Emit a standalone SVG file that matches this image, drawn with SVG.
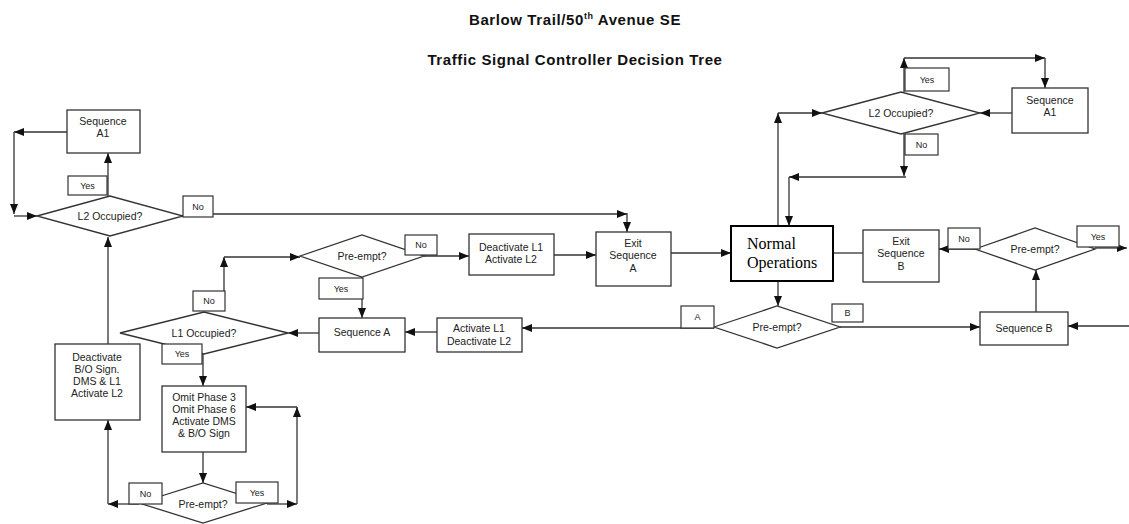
<svg xmlns="http://www.w3.org/2000/svg" width="1129" height="524" viewBox="0 0 1129 524">
<style>
.box{fill:#fff;stroke:#333;stroke-width:1.3}
.lbl{fill:#fff;stroke:#333;stroke-width:1.2}
.dia{fill:#fff;stroke:#333;stroke-width:1.3}
.t{font-family:"Liberation Sans",Arial,sans-serif;font-size:10.5px;fill:#222;text-anchor:middle}
.s{font-family:"Liberation Sans",Arial,sans-serif;font-size:9px;fill:#222;text-anchor:middle}
.title{font-family:"Liberation Sans",Arial,sans-serif;font-size:15px;font-weight:bold;fill:#111;text-anchor:middle;letter-spacing:0.6px}
.c{fill:none;stroke:#333;stroke-width:1.3}
.c.a{marker-end:url(#arr)}
</style>
<defs>
<marker id="arr" markerUnits="userSpaceOnUse" markerWidth="10" markerHeight="10" viewBox="0 0 10 10" refX="10" refY="5" orient="auto">
<path d="M0,1 L10,5 L0,9 Z" fill="#111"/>
</marker>
</defs>
<rect width="1129" height="524" fill="#fff"/>

<g id="title">
<text class="title" x="575" y="25">Barlow Trail/50<tspan font-size="9" dy="-6">th</tspan><tspan dy="6"> Avenue SE</tspan></text>
<text class="title" x="575" y="65">Traffic Signal Controller Decision Tree</text>
</g>

<g id="connectors">
<path class="c a" d="M67,132 H14"/>
<path class="c a" d="M14,132 V214"/>
<path class="c a" d="M14,216 H37"/>
<path class="c a" d="M108,196 V153"/>
<path class="c a" d="M183,214 H627"/>
<path class="c a" d="M627,213 V232"/>
<path class="c a" d="M108,344 V237"/>
<path class="c a" d="M139,504 H108"/>
<path class="c a" d="M108,504 V420"/>
<path class="c a" d="M267,504 H297"/>
<path class="c a" d="M297,504 V407"/>
<path class="c a" d="M297,407 H246"/>
<path class="c a" d="M203,452 V483"/>
<path class="c a" d="M203,354 V386"/>
<path class="c a" d="M224,311 V257"/>
<path class="c a" d="M224,257 H300"/>
<path class="c a" d="M319,333 H288"/>
<path class="c a" d="M362,277 V318"/>
<path class="c a" d="M424,256 H469"/>
<path class="c a" d="M554,255 H596"/>
<path class="c a" d="M671,253 H731"/>
<path class="c a" d="M778,281 V306"/>
<path class="c a" d="M714,328 H522"/>
<path class="c a" d="M437,332 H405"/>
<path class="c a" d="M840,327 H980"/>
<path class="c a" d="M1129,326 H1068"/>
<path class="c a" d="M1036,312 V270"/>
<path class="c a" d="M975,249 H939"/>
<path class="c a" d="M1095,248 H1127"/>
<path class="c" d="M833,253 H863"/>
<path class="c a" d="M778,226 V113"/>
<path class="c a" d="M778,113 H822"/>
<path class="c a" d="M904,92 V58"/>
<path class="c a" d="M904,58 H1045"/>
<path class="c a" d="M1045,58 V88"/>
<path class="c a" d="M904,134 V176"/>
<path class="c a" d="M906,177 H789"/>
<path class="c a" d="M789,177 V226"/>
<path class="c a" d="M1012,113 H980"/>
</g>

<g id="seqA1-left">
<rect class="box" x="67" y="110" width="73" height="43"/>
<text class="t" x="103" y="125">Sequence</text>
<text class="t" x="103" y="137">A1</text>
</g>
<g id="l2occ-left">
<polygon class="dia" points="37,216 110,196 183,216 110,236"/>
<text class="t" x="110" y="220">L2 Occupied?</text>
<rect class="lbl" x="68" y="176" width="39" height="19"/>
<text class="s" x="87.5" y="189">Yes</text>
<rect class="lbl" x="183" y="196" width="30" height="21"/>
<text class="s" x="198" y="210">No</text>
</g>
<g id="deact-bo">
<rect class="box" x="55" y="344" width="85" height="76"/>
<text class="t" x="97" y="361">Deactivate</text>
<text class="t" x="97" y="373">B/O Sign.</text>
<text class="t" x="97" y="385">DMS &amp; L1</text>
<text class="t" x="97" y="397">Activate L2</text>
</g>
<g id="l1occ">
<polygon class="dia" points="120,333 204,312 288,333 204,354"/>
<text class="t" x="204" y="337">L1 Occupied?</text>
<rect class="lbl" x="193" y="291" width="32" height="20"/>
<text class="s" x="209" y="304">No</text>
<rect class="lbl" x="162" y="344" width="40" height="20"/>
<text class="s" x="182" y="357">Yes</text>
</g>
<g id="omit">
<rect class="box" x="162" y="386" width="84" height="66"/>
<text class="t" x="204" y="401">Omit Phase 3</text>
<text class="t" x="204" y="413">Omit Phase 6</text>
<text class="t" x="204" y="425">Activate DMS</text>
<text class="t" x="204" y="437">&amp; B/O Sign</text>
</g>
<g id="preempt-bottom">
<polygon class="dia" points="139,503 203,483 267,503 203,523"/>
<text class="t" x="203" y="508">Pre-empt?</text>
<rect class="lbl" x="129" y="483" width="33" height="21"/>
<text class="s" x="145.5" y="497">No</text>
<rect class="lbl" x="236" y="482" width="42" height="21"/>
<text class="s" x="257" y="496">Yes</text>
</g>
<g id="preempt-mid">
<polygon class="dia" points="300,256 362,235 424,256 362,277"/>
<text class="t" x="362" y="260">Pre-empt?</text>
<rect class="lbl" x="405" y="235" width="32" height="20"/>
<text class="s" x="421" y="248">No</text>
<rect class="lbl" x="319" y="278" width="44" height="21"/>
<text class="s" x="341" y="292">Yes</text>
</g>
<g id="deact-l1">
<rect class="box" x="469" y="234" width="85" height="41"/>
<text class="t" x="511" y="251">Deactivate L1</text>
<text class="t" x="511" y="263">Activate L2</text>
</g>
<g id="seqA">
<rect class="box" x="319" y="318" width="86" height="34"/>
<text class="t" x="362" y="336">Sequence A</text>
</g>
<g id="act-l1">
<rect class="box" x="437" y="318" width="85" height="34"/>
<text class="t" x="479" y="332">Activate L1</text>
<text class="t" x="479" y="345">Deactivate L2</text>
</g>
<g id="exitA">
<rect class="box" x="596" y="232" width="75" height="54"/>
<text class="t" x="633" y="247">Exit</text>
<text class="t" x="633" y="259">Sequence</text>
<text class="t" x="633" y="272">A</text>
</g>
<g id="normal">
<rect x="731" y="226" width="102" height="55" fill="#fff" stroke="#000" stroke-width="2"/>
<text x="747" y="249" font-family="'Liberation Serif','Times New Roman',serif" font-size="16" fill="#000">Normal</text>
<text x="747" y="268" font-family="'Liberation Serif','Times New Roman',serif" font-size="16" fill="#000">Operations</text>
</g>
<g id="preempt-center">
<polygon class="dia" points="714,327 777,306 840,327 777,348"/>
<text class="t" x="777" y="331">Pre-empt?</text>
<rect class="lbl" x="681" y="306" width="33" height="22"/>
<text class="s" x="697.5" y="320">A</text>
<rect class="lbl" x="832" y="304" width="31" height="18"/>
<text class="s" x="847.5" y="316">B</text>
</g>
<g id="seqB">
<rect class="box" x="980" y="312" width="88" height="33"/>
<text class="t" x="1024" y="332">Sequence B</text>
</g>
<g id="preempt-right">
<polygon class="dia" points="975,249 1035,228 1095,249 1035,270"/>
<text class="t" x="1035" y="253">Pre-empt?</text>
<rect class="lbl" x="948" y="228" width="32" height="21"/>
<text class="s" x="964" y="242">No</text>
<rect class="lbl" x="1077" y="226" width="42" height="21"/>
<text class="s" x="1098" y="240">Yes</text>
</g>
<g id="exitB">
<rect class="box" x="863" y="230" width="76" height="52"/>
<text class="t" x="901" y="245">Exit</text>
<text class="t" x="901" y="257">Sequence</text>
<text class="t" x="901" y="270">B</text>
</g>
<g id="l2occ-right">
<polygon class="dia" points="822,113 901,92 980,113 901,134"/>
<text class="t" x="901" y="117">L2 Occupied?</text>
<rect class="lbl" x="905" y="68" width="44" height="23"/>
<text class="s" x="927" y="83">Yes</text>
<rect class="lbl" x="905" y="134" width="33" height="21"/>
<text class="s" x="921.5" y="148">No</text>
</g>
<g id="seqA1-right">
<rect class="box" x="1012" y="88" width="76" height="45"/>
<text class="t" x="1050" y="104">Sequence</text>
<text class="t" x="1050" y="116">A1</text>
</g>
</svg>
